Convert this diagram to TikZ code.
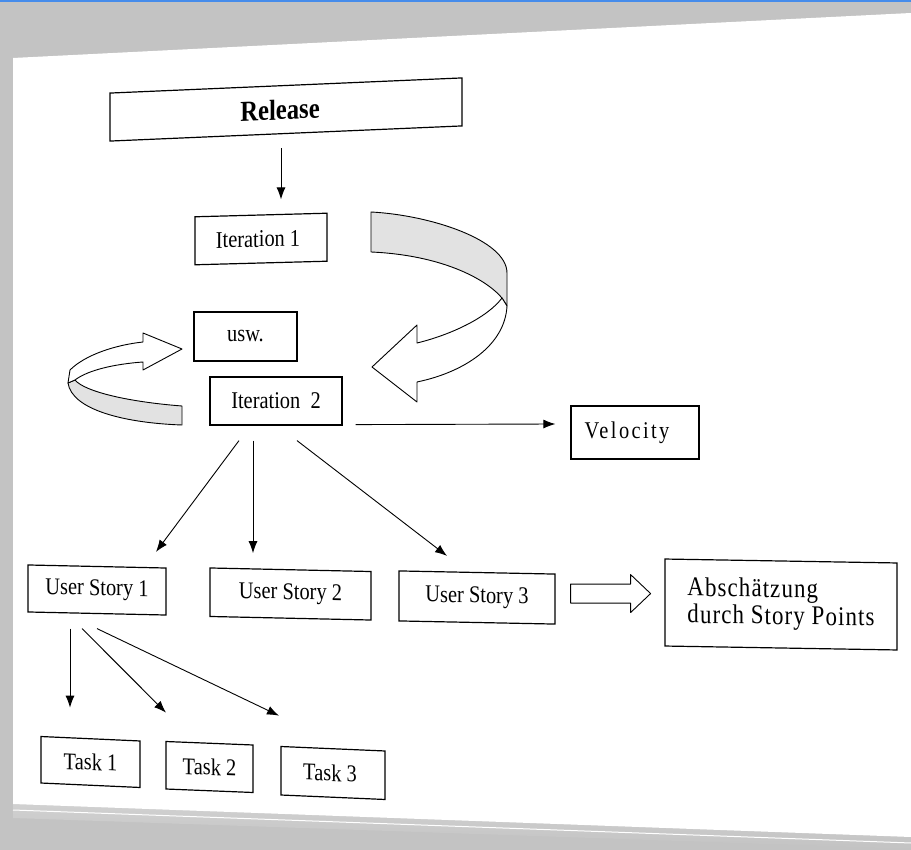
\documentclass[tikz,border=0pt]{standalone}
\usepackage{fontspec}
\newfontfamily\scanfont{Liberation Serif}[FakeStretch=0.85]
\newfontfamily\scanfontloose{Liberation Serif}[FakeStretch=0.85,LetterSpace=4]
\newfontfamily\scanfontwide{Liberation Serif}[FakeStretch=0.85,LetterSpace=10]
\usetikzlibrary{arrows.meta,calc}
\definecolor{pagegrey}{RGB}{195,195,195}
\definecolor{bandgrey}{RGB}{226,226,226}
\definecolor{topblue}{RGB}{70,140,235}

\begin{document}
\begin{tikzpicture}[x=1pt,y=-1pt,
    box/.style 2 args={draw, line width=1.2pt, minimum width=#1, minimum height=#2,
      inner sep=0pt, font=\scanfont\fontsize{24}{28}\selectfont},
    arr/.style={-{Latex[length=12pt,width=9pt]}, line width=0.9pt},
    ribbon/.style={draw, line width=0.9pt, fill=bandgrey, line join=round},
    hollow/.style={draw, line width=0.9pt, fill=white, line join=round}]
    \useasboundingbox (0,0) rectangle (911,850);

    \fill[pagegrey] (0,0) rectangle (911,850);
    \fill[topblue] (0,0) rectangle (911,2);
    \shade[top color=black!18, bottom color=pagegrey] (13,802) -- (911,835) -- (911,849) -- (13,818) -- cycle;
    \draw[white, line width=1pt] (13,810) -- (911,843);
    \fill[white] (13,58) -- (911,13) -- (911,837) -- (13,804) -- cycle;

    \node[box={352}{48}, yslant=0.043, font=\scanfont\bfseries\fontsize{29}{32}\selectfont] (R) at (286,109.5) {Release\hspace*{12pt}};
    \node[box={132}{48}, yslant=0.027] (I1) at (261,239) {Iteration 1\hspace*{6pt}};
    \node[box={103}{49}] (U) at (245.5,336.5) {usw.};
    \node[box={132}{48}] (I2) at (276,401) {Iteration\ \ 2};
    \node[box={128}{53}, font=\scanfontwide\fontsize{24}{28}\selectfont] (V) at (635,432.5) {Velocity\hspace*{16pt}};
    \node[box={138}{47}, yslant=-0.022] (S1) at (97,590) {User Story 1};
    \node[box={161}{48.5}, yslant=-0.022] (S2) at (290.5,594) {User Story 2};
    \node[box={156}{50}, yslant=-0.02] (S3) at (477,597.5) {User Story 3};
    \node[box={232}{87}, yslant=-0.017, align=left,
      font=\scanfontloose\fontsize{27}{27}\selectfont] (A) at (781,604.5) {Abschätzung\\durch Story Points};
    \node[box={99}{46.5}, yslant=-0.045] (T1) at (90.5,762) {Task 1};
    \node[box={87}{47.5}, yslant=-0.04] (T2) at (209.5,767) {Task 2};
    \node[box={104}{48.5}, yslant=-0.043] (T3) at (333,773) {Task 3\hspace*{6pt}};

    \draw[arr] ($(R.south)+(-5,14)$) -- ($(I1.north)+(20,-15)$);
    \draw[arr] ($(I2.south east)+(13,-1)$) -- ($(V.west)+(-15,-8.5)$);
    \draw[arr] ($(I2.south)+(-37,15)$) -- ($(S1.north)+(59,-14)$);
    \draw[arr] ($(I2.south)+(-23,15)$) -- ($(S2.north)+(-37.5,-16)$);
    \draw[arr] ($(I2.south)+(21,15)$) -- ($(S3.north)+(-30,-16)$);
    \draw[arr] ($(S1.south)+(-27,14.5)$) -- ($(T1.north)+(-20.5,-30.5)$);
    \draw[arr] ($(S1.south)+(-15,14.5)$) -- ($(T2.north)+(-43.5,-30)$);
    \draw[arr] ($(S1.south)+(0,14.5)$) -- ($(T3.north)+(-54,-32.5)$);

    \draw[hollow] ($(S3.east)+(15,-5.5)$) ++(0,-9.5) -- ++(60,0) -- ++(0,-9.5) -- ++(20,19)
      -- ++(-20,19) -- ++(0,-9.5) -- ++(-60,0) -- cycle;

    \draw[ribbon] (371,212) .. controls (430,215) and (507,240) .. (507,273) -- (507,306)
      -- (502,298) .. controls (485,278) and (440,255) .. (371,252) -- cycle;
    \draw[hollow] (502,298) .. controls (487,318) and (450,335) .. (417,343) -- (417,325)
      -- (372,367) -- (417,402) -- (417,382) .. controls (465,372) and (505,345) .. (507,306) -- cycle;

    \draw[ribbon] (182,406) .. controls (130,402) and (85,392) .. (75,380) -- (68,383)
      .. controls (72,410) and (125,423) .. (182,425) -- cycle;
    \draw[hollow] (70,370) .. controls (85,355) and (115,345) .. (143,342) -- (143,333)
      -- (182,349) -- (143,370) -- (143,362) .. controls (115,364) and (88,370) .. (75,380)
      -- (68,383) -- cycle;
\end{tikzpicture}
\end{document}
